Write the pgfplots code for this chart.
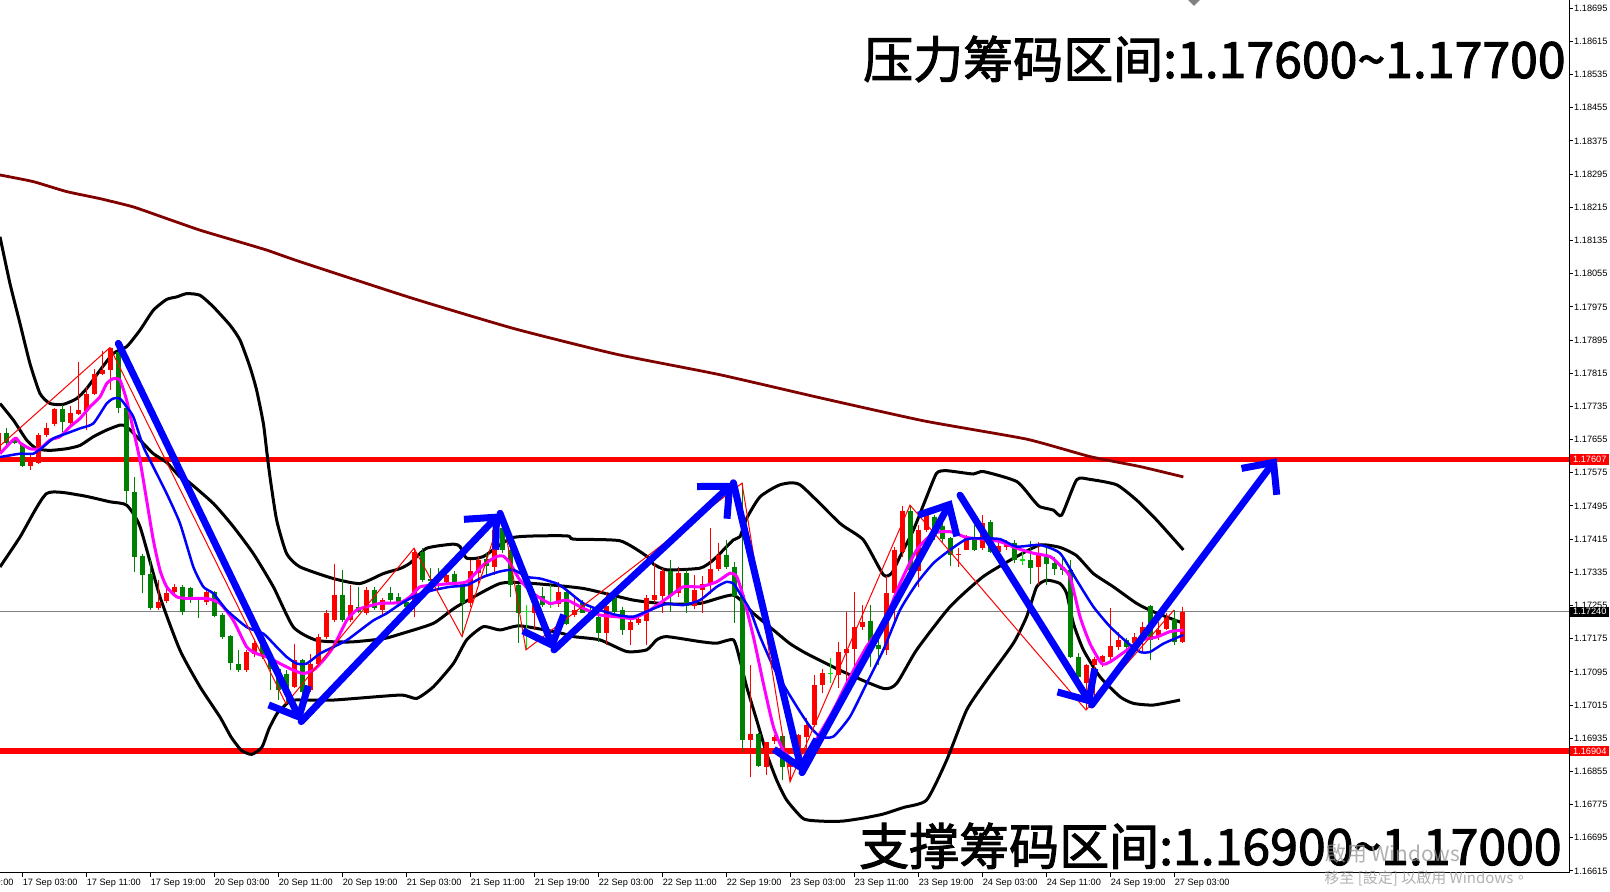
\documentclass[border=0pt]{standalone}
\usepackage{fontspec}
\setmainfont{Liberation Sans}
\newfontfamily\cjk{Noto Sans CJK SC}[FakeBold=2]
\newfontfamily\cjktc{Noto Sans CJK TC}
\usepackage{pgfplots}
\pgfplotsset{compat=1.18}
\usepackage{pgfplotstable}
\usetikzlibrary{arrows.meta}

\definecolor{mtred}{RGB}{255,0,0}
\definecolor{mtgreen}{RGB}{0,128,0}
\definecolor{mtlime}{RGB}{0,230,0}
\definecolor{mtmag}{RGB}{255,0,255}
\definecolor{mtblue}{RGB}{0,0,255}
\definecolor{mtbrown}{RGB}{128,0,0}
\definecolor{wmgray}{RGB}{150,150,150}

% candles, x = H1 bar index (0 = 17 Sep 03:00), top/bot = body, hi/lo = wick
\pgfplotstableread{
x top bot hi lo
-3 1.17670 1.17621 1.17678 1.17617
1 1.17601 1.17592 1.17617 1.17581
2 1.17666 1.17599 1.17670 1.17596
3 1.17684 1.17666 1.17695 1.17662
4 1.17728 1.17692 1.17732 1.17687
6 1.17718 1.17695 1.17736 1.17686
7 1.17726 1.17716 1.17843 1.17714
8 1.17766 1.17724 1.17782 1.17678
9 1.17814 1.17766 1.17826 1.17762
10 1.17822 1.17814 1.17869 1.17810
11 1.17877 1.17822 1.17877 1.17774
17 1.17264 1.17250 1.17316 1.17244
18 1.17284 1.17266 1.17300 1.17260
19 1.17300 1.17288 1.17308 1.17280
23 1.17288 1.17264 1.17292 1.17256
28 1.17143 1.17099 1.17147 1.17095
29 1.17165 1.17139 1.17175 1.17131
34 1.17123 1.17059 1.17163 1.17055
36 1.17115 1.17051 1.17139 1.17047
37 1.17179 1.17115 1.17187 1.17111
38 1.17236 1.17179 1.17244 1.17175
39 1.17280 1.17219 1.17356 1.17215
41 1.17256 1.17219 1.17304 1.17215
43 1.17293 1.17236 1.17300 1.17232
45 1.17268 1.17244 1.17272 1.17227
49 1.17385 1.17260 1.17393 1.17228
53 1.17329 1.17312 1.17333 1.17308
56 1.17337 1.17262 1.17365 1.17252
57 1.17365 1.17334 1.17373 1.17308
59 1.17437 1.17349 1.17449 1.17329
64 1.17256 1.17238 1.17276 1.17196
67 1.17288 1.17259 1.17312 1.17252
69 1.17244 1.17232 1.17272 1.17228
73 1.17254 1.17189 1.17288 1.17160
76 1.17214 1.17196 1.17228 1.17160
77 1.17222 1.17212 1.17232 1.17208
78 1.17272 1.17218 1.17280 1.17160
79 1.17280 1.17268 1.17357 1.17260
80 1.17339 1.17279 1.17345 1.17236
82 1.17334 1.17284 1.17349 1.17276
84 1.17292 1.17254 1.17329 1.17246
85 1.17307 1.17292 1.17325 1.17238
86 1.17342 1.17304 1.17443 1.17283
87 1.17377 1.17342 1.17405 1.17337
91 1.16945 1.16930 1.17111 1.16842
93 1.16926 1.16866 1.16926 1.16846
94 1.16937 1.16929 1.16942 1.16922
96 1.16884 1.16866 1.16890 1.16830
97 1.16942 1.16905 1.16946 1.16858
98 1.16967 1.16938 1.16983 1.16906
99 1.17063 1.16967 1.17087 1.16963
100 1.17093 1.17063 1.17103 1.17043
102 1.17144 1.17087 1.17168 1.17055
103 1.17149 1.17141 1.17240 1.17067
104 1.17204 1.17149 1.17288 1.17075
105 1.17216 1.17204 1.17256 1.17196
108 1.17284 1.17148 1.17325 1.17136
109 1.17389 1.17284 1.17397 1.17208
110 1.17484 1.17385 1.17495 1.17373
112 1.17437 1.17337 1.17449 1.17300
113 1.17484 1.17437 1.17485 1.17433
117 1.17379 1.17376 1.17393 1.17349
118 1.17417 1.17390 1.17425 1.17389
120 1.17455 1.17393 1.17473 1.17390
122 1.17398 1.17385 1.17405 1.17381
123 1.17409 1.17395 1.17413 1.17390
127 1.17379 1.17347 1.17409 1.17304
133 1.17111 1.17067 1.17115 1.17003
134 1.17125 1.17111 1.17132 1.17011
135 1.17133 1.17119 1.17136 1.17107
136 1.17157 1.17132 1.17248 1.17122
137 1.17172 1.17156 1.17192 1.17148
139 1.17180 1.17164 1.17188 1.17156
140 1.17202 1.17173 1.17216 1.17144
142 1.17197 1.17178 1.17216 1.17172
143 1.17224 1.17199 1.17236 1.17196
145 1.17240 1.17168 1.17252 1.17164
}\bullbars

\pgfplotstableread{
x top bot hi lo
-2 1.17670 1.17646 1.17684 1.17638
-1 1.17655 1.17647 1.17662 1.17644
0 1.17641 1.17591 1.17644 1.17588
5 1.17728 1.17698 1.17738 1.17674
12 1.17867 1.17730 1.17887 1.17718
13 1.17730 1.17531 1.17738 1.17501
14 1.17529 1.17372 1.17565 1.17336
15 1.17374 1.17328 1.17380 1.17284
16 1.17330 1.17250 1.17364 1.17244
20 1.17300 1.17240 1.17304 1.17232
21 1.17296 1.17269 1.17300 1.17260
22 1.17271 1.17268 1.17276 1.17226
24 1.17288 1.17230 1.17290 1.17227
25 1.17232 1.17178 1.17236 1.17175
26 1.17181 1.17116 1.17183 1.17099
27 1.17115 1.17099 1.17147 1.17095
30 1.17159 1.17135 1.17167 1.17127
31 1.17135 1.17103 1.17139 1.17051
32 1.17103 1.17051 1.17107 1.17027
33 1.17091 1.17043 1.17099 1.17018
35 1.17123 1.17047 1.17127 1.17035
40 1.17280 1.17219 1.17340 1.17215
42 1.17252 1.17240 1.17300 1.17236
44 1.17293 1.17248 1.17300 1.17244
46 1.17284 1.17269 1.17300 1.17264
47 1.17276 1.17260 1.17284 1.17252
48 1.17264 1.17252 1.17272 1.17244
50 1.17385 1.17316 1.17393 1.17312
51 1.17320 1.17315 1.17345 1.17308
52 1.17325 1.17316 1.17345 1.17296
54 1.17331 1.17308 1.17337 1.17304
55 1.17308 1.17262 1.17312 1.17180
58 1.17366 1.17350 1.17381 1.17329
60 1.17441 1.17389 1.17481 1.17381
61 1.17389 1.17304 1.17397 1.17276
62 1.17304 1.17238 1.17308 1.17164
65 1.17279 1.17256 1.17300 1.17252
68 1.17288 1.17210 1.17292 1.17208
70 1.17262 1.17238 1.17268 1.17236
71 1.17244 1.17236 1.17252 1.17232
72 1.17228 1.17189 1.17256 1.17168
74 1.17272 1.17240 1.17288 1.17236
75 1.17244 1.17196 1.17252 1.17184
81 1.17339 1.17278 1.17365 1.17240
83 1.17334 1.17254 1.17341 1.17238
88 1.17377 1.17347 1.17413 1.17342
89 1.17347 1.17278 1.17361 1.17212
90 1.17280 1.16930 1.17550 1.16902
92 1.16946 1.16868 1.16947 1.16866
95 1.16940 1.16866 1.16943 1.16834
106 1.17218 1.17164 1.17256 1.17107
107 1.17160 1.17149 1.17176 1.17111
111 1.17484 1.17341 1.17497 1.17334
114 1.17469 1.17437 1.17473 1.17413
115 1.17447 1.17415 1.17469 1.17409
116 1.17417 1.17377 1.17421 1.17350
119 1.17417 1.17390 1.17449 1.17387
121 1.17457 1.17385 1.17461 1.17382
124 1.17406 1.17365 1.17413 1.17358
126 1.17365 1.17345 1.17411 1.17308
128 1.17374 1.17355 1.17401 1.17304
129 1.17357 1.17342 1.17373 1.17329
130 1.17347 1.17341 1.17369 1.17329
131 1.17341 1.17132 1.17365 1.17128
132 1.17132 1.17082 1.17140 1.17067
138 1.17173 1.17154 1.17176 1.17136
141 1.17254 1.17173 1.17256 1.17123
144 1.17222 1.17168 1.17244 1.17160
}\bearbars

\pgfplotstableread{
x top bot hi lo
63 1.17242 1.17239 1.17256 1.17148
66 1.17259 1.17256 1.17304 1.17248
101 1.17093 1.17091 1.17128 1.17067
125 1.17366 1.17363 1.17385 1.17353
}\dojibars

\pgfplotsset{
  wick/.style={draw=none, mark=none, forget plot, error bars/.cd, y dir=minus, y explicit,
    error mark=none, error bar style={draw=#1, line width=0.5pt}},
  body/.style={draw=none, mark=none, forget plot, error bars/.cd, y dir=minus, y explicit,
    error mark=none, error bar style={draw=#1, line width=2.5pt}},
  band/.style={black, line width=1.5pt, smooth, tension=0.35, mark=none},
  handarrow/.style={mtblue, line width=3.5pt, line cap=round, line join=round, mark=none,
    -{Straight Barb[length=12pt, width=22pt]}},
}

\begin{document}
\begin{tikzpicture}
\begin{axis}[
  scale only axis, width=784.5pt, height=436.5pt,
  xmin=-2.75, xmax=193.375, ymin=1.16610, ymax=1.18715,
  axis line style={draw=none},
  clip mode=individual,
  xtick pos=bottom, ytick pos=right, yticklabel pos=right,
  tick align=outside, major tick length=2pt,
  tick style={black, line width=0.5pt},
  ticklabel style={font=\fontsize{4.6pt}{5pt}\selectfont, inner sep=0pt},
  xtick={0,8,...,144},
  xticklabels={17 Sep 03:00, 17 Sep 11:00, 17 Sep 19:00, 20 Sep 03:00, 20 Sep 11:00,
    20 Sep 19:00, 21 Sep 03:00, 21 Sep 11:00, 21 Sep 19:00, 22 Sep 03:00, 22 Sep 11:00,
    22 Sep 19:00, 23 Sep 03:00, 23 Sep 11:00, 23 Sep 19:00, 24 Sep 03:00, 24 Sep 11:00,
    24 Sep 19:00, 27 Sep 03:00},
  xticklabel style={anchor=north west, xshift=0.2pt, yshift=-1pt},
  ytick={1.16615,1.16695,1.16775,1.16855,1.16935,1.17015,1.17095,1.17175,1.17255,
    1.17335,1.17415,1.17495,1.17575,1.17655,1.17735,1.17815,1.17895,1.17975,1.18055,
    1.18135,1.18215,1.18295,1.18375,1.18455,1.18535,1.18615,1.18695},
  yticklabels={1.16615,1.16695,1.16775,1.16855,1.16935,1.17015,1.17095,1.17175,1.17255,
    1.17335,1.17415,1.17495,1.17575,1.17655,1.17735,1.17815,1.17895,1.17975,1.18055,
    1.18135,1.18215,1.18295,1.18375,1.18455,1.18535,1.18615,1.18695},
  yticklabel style={anchor=west, xshift=0.4pt},
  scaled y ticks=false,
]
% support / resistance and current price
\addplot[mtred, line width=2.6pt, forget plot] coordinates {(-2.75,1.17607) (193.375,1.17607)};
\addplot[mtred, line width=2.6pt, forget plot] coordinates {(-2.75,1.16904) (193.375,1.16904)};
\addplot[gray, line width=0.5pt, forget plot] coordinates {(-2.75,1.17240) (193.375,1.17240)};

% MA 200
\addplot[mtbrown, line width=1.4pt, smooth, tension=0.3] coordinates {
(-2.75,1.18293) (1.42,1.18277) (5.58,1.18253) (9.75,1.18236) (13.92,1.18216) (18.08,1.18188)
(22.25,1.18160) (26.42,1.18136) (30.58,1.18112) (34.75,1.18084) (48.59,1.17997) (61.43,1.17923)
(74.26,1.17861) (87.1,1.17812) (99.93,1.17755) (112.77,1.17700) (125.6,1.17656) (133.5,1.17614)
(139.75,1.17590) (145.17,1.17565)};

% Bollinger bands
\addplot[band] coordinates {
(-2.75,1.18144) (-1.5,1.18031) (-0.25,1.17935) (1.0,1.17838) (2.25,1.17766) (3.5,1.17742)
(5.17,1.17740) (6.83,1.17754) (8.08,1.17778) (9.75,1.17822) (11.42,1.17863) (13.08,1.17879)
(14.75,1.17919) (16.42,1.17967) (18.08,1.17993) (19.33,1.17999) (20.58,1.18007) (22.25,1.18003)
(23.92,1.17975) (26.0,1.17931) (27.25,1.17895) (28.5,1.17830) (29.33,1.17774) (30.17,1.17694)
(30.58,1.17629) (31.0,1.17565) (31.83,1.17461) (33.08,1.17380) (34.75,1.17348) (38.92,1.17320)
(42.25,1.17308) (45.17,1.17332) (47.25,1.17344) (48.5,1.17357) (50.58,1.17393) (53.92,1.17403)
(54.75,1.17397) (55.58,1.17369) (57.67,1.17373) (61.42,1.17419) (68.08,1.17423) (68.92,1.17415)
(74.75,1.17411) (78.08,1.17374) (78.92,1.17355) (80.58,1.17341) (84.75,1.17345) (86.42,1.17365)
(88.92,1.17413) (89.75,1.17421) (90.58,1.17465) (92.25,1.17517) (94.75,1.17546) (97.25,1.17546)
(102.25,1.17453) (105.17,1.17413) (107.67,1.17329) (108.71,1.17333) (109.75,1.17373)
(111.42,1.17437) (113.08,1.17517) (114.33,1.17574) (115.58,1.17580) (118.92,1.17572)
(120.17,1.17578) (124.33,1.17554) (126.42,1.17509) (127.25,1.17493) (128.92,1.17485)
(129.96,1.17473) (131.83,1.17558) (133.5,1.17559) (136.83,1.17546) (139.33,1.17509)
(141.83,1.17461) (145.17,1.17389)};
\addplot[band] coordinates {
(-2.75,1.17742) (-1.08,1.17702) (0.58,1.17654) (1.83,1.17633) (3.5,1.17629) (5.58,1.17633)
(7.25,1.17641) (8.92,1.17662) (10.58,1.17678) (12.25,1.17690) (13.08,1.17686) (14.75,1.17654)
(16.42,1.17621) (18.08,1.17600) (19.75,1.17565) (20.58,1.17557) (23.92,1.17501) (26.42,1.17445)
(28.92,1.17380) (31.42,1.17300) (33.92,1.17203) (36.83,1.17171) (41.0,1.17167) (45.17,1.17175)
(47.25,1.17186) (51.42,1.17212) (54.33,1.17252) (59.75,1.17308) (63.92,1.17308) (70.17,1.17296)
(76.42,1.17268) (80.58,1.17259) (84.75,1.17260) (88.92,1.17280) (91.42,1.17236) (93.92,1.17196)
(96.0,1.17163) (98.08,1.17139) (102.67,1.17095) (107.67,1.17055) (109.33,1.17067)
(111.83,1.17148) (116.0,1.17252) (120.17,1.17325) (124.33,1.17373) (127.25,1.17401)
(129.75,1.17395) (131.83,1.17375) (133.92,1.17332) (136.42,1.17300) (139.33,1.17260)
(141.42,1.17240) (145.17,1.17212)};
\addplot[band] coordinates {
(-2.75,1.17348) (-0.25,1.17420) (3.08,1.17525) (7.25,1.17521) (11.0,1.17505) (13.08,1.17497)
(14.75,1.17445) (17.25,1.17276) (19.75,1.17147) (22.25,1.17059) (24.75,1.16986) (26.13,1.16938)
(27.41,1.16906) (28.7,1.16896) (29.98,1.16913) (30.88,1.16958) (31.9,1.16995) (33.19,1.17020)
(33.92,1.17027) (38.92,1.17027) (47.25,1.17039) (49.33,1.17031) (51.42,1.17059) (53.92,1.17115)
(55.58,1.17172) (57.67,1.17204) (59.75,1.17196) (62.25,1.17206) (67.25,1.17189) (68.92,1.17180)
(72.25,1.17172) (75.58,1.17144) (78.08,1.17148) (79.33,1.17172) (80.58,1.17180) (84.75,1.17168)
(86.83,1.17164) (88.92,1.17172) (89.75,1.17123) (90.58,1.17059) (91.83,1.16979) (93.08,1.16898)
(94.33,1.16834) (95.58,1.16786) (97.67,1.16741) (99.93,1.16735) (102.5,1.16735) (105.06,1.16742)
(107.63,1.16752) (110.2,1.16768) (113.08,1.16786) (115.58,1.16882) (118.08,1.17003)
(120.58,1.17075) (123.92,1.17164) (125.58,1.17228) (126.83,1.17300) (128.08,1.17316)
(129.75,1.17308) (130.58,1.17284) (131.42,1.17212) (132.67,1.17148) (134.75,1.17083)
(137.25,1.17035) (138.92,1.17019) (141.42,1.17015) (144.75,1.17027)};

% candles
\addplot[wick=mtred] table[x=x, y=hi, y error minus expr=\thisrow{hi}-\thisrow{lo}] {\bullbars};
\addplot[body=mtred] table[x=x, y=top, y error minus expr=\thisrow{top}-\thisrow{bot}] {\bullbars};
\addplot[wick=mtgreen] table[x=x, y=hi, y error minus expr=\thisrow{hi}-\thisrow{lo}] {\bearbars};
\addplot[body=mtgreen] table[x=x, y=top, y error minus expr=\thisrow{top}-\thisrow{bot}] {\bearbars};
\addplot[wick=mtlime] table[x=x, y=hi, y error minus expr=\thisrow{hi}-\thisrow{lo}] {\dojibars};
\addplot[body=mtlime] table[x=x, y=top, y error minus expr=\thisrow{top}-\thisrow{bot}] {\dojibars};

% fast and slow moving averages
\addplot[mtmag, line width=1.5pt, smooth, tension=0.35] coordinates {
(-2.75,1.17621) (-0.875,1.17658) (-0.25,1.17647) (1.0,1.17633) (2.25,1.17633) (3.5,1.17654)
(4.75,1.17662) (6.0,1.17686) (7.25,1.17706) (8.5,1.17734) (9.75,1.17758) (10.58,1.17790)
(11.42,1.17802) (12.25,1.17798) (13.08,1.17750) (13.92,1.17678) (14.75,1.17605) (15.58,1.17509)
(16.42,1.17412) (17.25,1.17340) (18.08,1.17300) (19.33,1.17276) (20.58,1.17272) (23.08,1.17272)
(24.75,1.17260) (26.42,1.17219) (28.08,1.17155) (29.33,1.17139) (30.58,1.17131) (32.25,1.17115)
(33.92,1.17099) (35.17,1.17091) (36.42,1.17099) (37.67,1.17123) (38.92,1.17155) (40.58,1.17219)
(41.83,1.17244) (43.08,1.17252) (44.75,1.17260) (47.25,1.17262) (48.5,1.17276) (49.75,1.17300)
(51.42,1.17304) (53.5,1.17308) (55.58,1.17312) (57.67,1.17353) (59.33,1.17373) (60.17,1.17374)
(61.0,1.17357) (62.25,1.17316) (63.92,1.17284) (66.0,1.17260) (68.08,1.17268) (70.17,1.17248)
(72.25,1.17232) (74.33,1.17228) (76.42,1.17224) (78.5,1.17244) (80.58,1.17272) (82.67,1.17300)
(84.75,1.17300) (86.83,1.17312) (88.5,1.17333) (89.33,1.17325) (90.17,1.17276) (91.42,1.17180)
(92.67,1.17067) (93.92,1.16963) (95.17,1.16906) (97.25,1.16866) (98.5,1.16906) (99.75,1.16947)
(101.42,1.17003) (103.5,1.17083) (105.58,1.17156) (107.67,1.17212) (109.75,1.17308)
(111.83,1.17389) (113.92,1.17429) (116.0,1.17433) (118.08,1.17419) (120.17,1.17415)
(122.25,1.17409) (124.33,1.17393) (126.42,1.17381) (128.5,1.17373) (129.75,1.17352)
(131.0,1.17324) (132.25,1.17228) (133.5,1.17163) (134.96,1.17115) (136.0,1.17119)
(138.08,1.17147) (139.75,1.17171) (141.83,1.17179) (143.5,1.17192) (145.17,1.17196)};
\addplot[mtblue, line width=1.25pt, smooth, tension=0.35] coordinates {
(-2.75,1.17613) (-1.5,1.17617) (-0.25,1.17621) (1.42,1.17621) (2.67,1.17638) (3.92,1.17658)
(5.58,1.17670) (7.25,1.17682) (8.92,1.17694) (10.58,1.17742) (11.42,1.17754) (12.25,1.17754)
(13.08,1.17734) (13.92,1.17710) (15.17,1.17638) (16.42,1.17589) (18.08,1.17525) (19.75,1.17453)
(21.42,1.17348) (22.67,1.17300) (23.92,1.17284) (25.58,1.17244) (28.08,1.17203) (30.17,1.17187)
(31.83,1.17155) (33.08,1.17131) (34.33,1.17115) (35.58,1.17115) (37.25,1.17139) (38.92,1.17155)
(40.58,1.17171) (42.25,1.17195) (43.92,1.17219) (45.58,1.17236) (47.25,1.17258) (49.33,1.17280)
(51.42,1.17292) (53.5,1.17300) (55.58,1.17304) (57.67,1.17324) (59.75,1.17337) (61.42,1.17341)
(63.08,1.17324) (64.75,1.17320) (66.83,1.17308) (68.08,1.17292) (70.17,1.17260) (72.25,1.17244)
(74.33,1.17232) (76.42,1.17228) (78.5,1.17244) (80.58,1.17259) (82.67,1.17256) (84.75,1.17268)
(86.83,1.17300) (88.08,1.17312) (88.92,1.17308) (89.75,1.17284) (91.0,1.17244) (92.25,1.17180)
(93.92,1.17107) (95.58,1.17051) (97.25,1.16999) (98.5,1.16963) (99.75,1.16939) (101.42,1.16939)
(103.5,1.16987) (105.58,1.17067) (107.67,1.17148) (109.75,1.17244) (111.83,1.17308)
(113.92,1.17357) (116.0,1.17389) (118.08,1.17415) (120.17,1.17417) (122.25,1.17415)
(124.33,1.17397) (127.25,1.17401) (129.75,1.17381) (131.83,1.17316) (133.92,1.17252)
(136.0,1.17204) (138.08,1.17167) (139.75,1.17143) (141.0,1.17143) (142.67,1.17163)
(145.17,1.17184)};

% zigzag
\addplot[mtred, line width=0.5pt] coordinates {
(-2.75,1.17640) (11,1.17877) (33,1.17018) (49,1.17393) (55,1.17180) (60,1.17481) (63,1.17148)
(90,1.17550) (96,1.16830) (111,1.17497) (133,1.17003) (144,1.17244)};

% hand-drawn arrows
\addplot[handarrow] coordinates {(12.04,1.17887) (34.9,1.16975)};
\addplot[handarrow] coordinates {(34.9,1.16975) (59.75,1.17477)};
\addplot[handarrow] coordinates {(59.75,1.17477) (66.5,1.17148)};
\addplot[handarrow] coordinates {(66.5,1.17148) (88.92,1.17551)};
\addplot[handarrow] coordinates {(88.92,1.17551) (97.5,1.16852)};
\addplot[handarrow] coordinates {(97.5,1.16852) (116.2,1.17509)};
\addplot[handarrow] coordinates {(117.25,1.17521) (133.7,1.17015)};
\addplot[handarrow] coordinates {(133.7,1.17015) (156.83,1.17610)};

% frame and price tags
\draw[black, line width=0.5pt] (rel axis cs:0,1) -- (rel axis cs:1,1) -- (rel axis cs:1,0) -- (rel axis cs:0,0);
\node[anchor=north west, font=\fontsize{4.6pt}{5pt}\selectfont, inner sep=0pt, xshift=0.2pt, yshift=-3pt]
  at (axis cs:-8,1.16610) {16 Sep 19:00};
\node[anchor=west, fill=mtred, text=white, font=\fontsize{4.6pt}{5pt}\selectfont, inner sep=0.5pt,
  minimum height=5.2pt, minimum width=19.6pt, xshift=0.4pt] at (axis cs:193.375,1.17607) {1.17607};
\node[anchor=west, fill=mtred, text=white, font=\fontsize{4.6pt}{5pt}\selectfont, inner sep=0.5pt,
  minimum height=5.2pt, minimum width=19.6pt, xshift=0.4pt] at (axis cs:193.375,1.16904) {1.16904};
\node[anchor=west, fill=black, text=white, font=\fontsize{4.6pt}{5pt}\selectfont, inner sep=0.5pt,
  minimum height=5pt, minimum width=19.6pt, xshift=0.4pt] at (axis cs:193.375,1.17240) {1.17240};
\end{axis}
\fill[gray] (594pt,436.5pt) -- (600pt,436.5pt) -- (597pt,433.5pt) -- cycle;
\node[anchor=base east, inner sep=0pt, font=\cjk\fontsize{25pt}{25pt}\selectfont]
  at (783pt,397.5pt) {压力筹码区间:1.17600\textasciitilde1.17700};
\node[anchor=base east, inner sep=0pt, font=\cjk\fontsize{25pt}{25pt}\selectfont]
  at (781pt,4pt) {支撑筹码区间:1.16900\textasciitilde1.17000};
\node[anchor=base west, inner sep=0pt, text=wmgray, opacity=0.75, font=\cjktc\fontsize{10.4pt}{11pt}\selectfont]
  at (662.5pt,5.5pt) {啟用 Windows};
\node[anchor=base west, inner sep=0pt, text=wmgray, opacity=0.75, font=\cjktc\fontsize{7.5pt}{8pt}\selectfont]
  at (662pt,-5.5pt) {移至 [設定] 以啟用 Windows。};
\pgfresetboundingbox
\path[use as bounding box] (0,-9.5pt) rectangle (805pt,436.5pt);
\end{tikzpicture}
\end{document}
